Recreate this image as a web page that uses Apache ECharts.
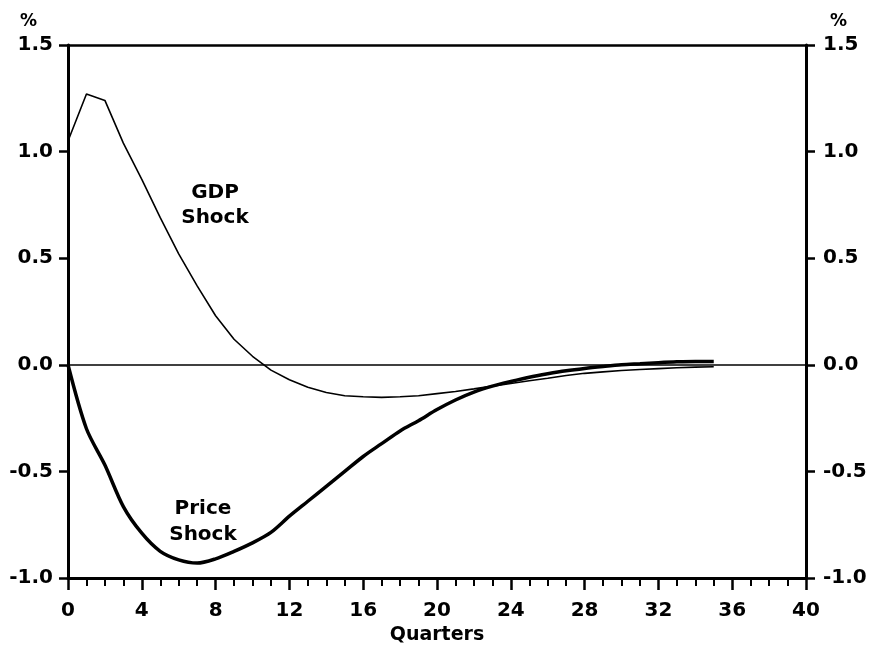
<!DOCTYPE html>
<html>
<head>
<meta charset="utf-8">
<script src="https://cdn.jsdelivr.net/npm/echarts@6/dist/echarts.min.js"></script>
<style>html,body{margin:0;padding:0;background:#fff}#c{width:875px;height:653px}</style>
</head>
<body>
<div id="c"></div>
<script>
var quarters = [0,1,2,3,4,5,6,7,8,9,10,11,12,13,14,15,16,17,18,19,20,21,22,23,24,25,26,27,28,29,30,31,32,33,34,35];
var gdpShock = [1.05,1.27,1.24,1.04,0.87,0.69,0.52,0.37,0.23,0.12,0.04,-0.025,-0.07,-0.105,-0.13,-0.145,-0.15,-0.153,-0.15,-0.145,-0.135,-0.125,-0.113,-0.10,-0.088,-0.075,-0.063,-0.05,-0.04,-0.033,-0.027,-0.022,-0.018,-0.014,-0.011,-0.009];
var priceShock = [0,-0.30,-0.47,-0.665,-0.79,-0.875,-0.915,-0.93,-0.91,-0.875,-0.835,-0.786,-0.71,-0.64,-0.57,-0.50,-0.43,-0.37,-0.31,-0.262,-0.21,-0.165,-0.128,-0.10,-0.078,-0.058,-0.042,-0.028,-0.017,-0.008,0.0,0.005,0.01,0.014,0.016,0.016];
var yTicks = [-1.0,-0.5,0.0,0.5,1.0,1.5];
var xTicks = [0,4,8,12,16,20,24,28,32,36,40];

var FONT = 'DejaVu Sans';
function pairs(xs, ys){ return xs.map(function(x,i){ return [x, ys[i]]; }); }
var labelStyle = {color:'#000', fontFamily:FONT, fontWeight:'bold', fontSize:20};

var chart = echarts.init(document.getElementById('c'), null, {renderer:'canvas'});
chart.setOption({
  animation:false,
  backgroundColor:'#fff',
  grid:{left:68, right:69, top:45, bottom:75, containLabel:false},
  xAxis:[{
    type:'value', min:xTicks[0], max:xTicks[xTicks.length-1], interval:4, position:'bottom',
    axisLine:{show:true, onZero:false, lineStyle:{color:'#000', width:3}},
    axisTick:{show:true, length:12, lineStyle:{color:'#000', width:2.5}},
    minorTick:{show:true, splitNumber:4, length:8, lineStyle:{color:'#000', width:2}},
    splitLine:{show:false},
    axisLabel:Object.assign({margin:23}, labelStyle),
    name:'Quarters', nameLocation:'middle', nameGap:47,
    nameTextStyle:{color:'#000', fontFamily:FONT, fontWeight:'bold', fontSize:19}
  },{
    type:'value', min:0, max:40, position:'top',
    axisLine:{show:true, onZero:false, lineStyle:{color:'#000', width:2.5}},
    axisTick:{show:false}, axisLabel:{show:false}, splitLine:{show:false}
  }],
  yAxis:[{
    type:'value', min:yTicks[0], max:yTicks[yTicks.length-1], interval:0.5, position:'left',
    axisLine:{show:true, onZero:false, lineStyle:{color:'#000', width:3}},
    axisTick:{show:true, length:9, lineStyle:{color:'#000', width:2.5}},
    splitLine:{show:false},
    axisLabel:Object.assign({margin:15, formatter:function(v){return v.toFixed(1);}}, labelStyle)
  },{
    type:'value', min:yTicks[0], max:yTicks[yTicks.length-1], interval:0.5, position:'right',
    axisLine:{show:true, onZero:false, lineStyle:{color:'#000', width:3}},
    axisTick:{show:true, length:9, lineStyle:{color:'#000', width:2.5}},
    splitLine:{show:false},
    axisLabel:Object.assign({margin:17, formatter:function(v){return v.toFixed(1);}}, labelStyle)
  }],
  series:[{
    name:'GDP Shock', type:'line', xAxisIndex:0, yAxisIndex:0,
    data:pairs(quarters, gdpShock), showSymbol:false, symbol:'none',
    lineStyle:{color:'#000', width:1.6},
    markLine:{silent:true, symbol:['none','none'], label:{show:false},
      lineStyle:{color:'#000', width:1.6, type:'solid'}, data:[{yAxis:0}]}
  },{
    name:'Price Shock', type:'line', xAxisIndex:0, yAxisIndex:0, smooth:0.3,
    data:pairs(quarters, priceShock), showSymbol:false, symbol:'none',
    lineStyle:{color:'#000', width:3.5}
  }],
  graphic:[
    {type:'text', left:20, top:13, style:{text:'%', fill:'#000', font:'bold 17px "DejaVu Sans"'}},
    {type:'text', left:830, top:13, style:{text:'%', fill:'#000', font:'bold 17px "DejaVu Sans"'}},
    {type:'text', x:215, y:205, style:{text:'GDP\nShock', fill:'#000', font:'bold 20px "DejaVu Sans"', align:'center', verticalAlign:'middle', lineHeight:25}},
    {type:'text', x:203, y:522, style:{text:'Price\nShock', fill:'#000', font:'bold 20px "DejaVu Sans"', align:'center', verticalAlign:'middle', lineHeight:26}}
  ]
});
</script>
</body>
</html>
